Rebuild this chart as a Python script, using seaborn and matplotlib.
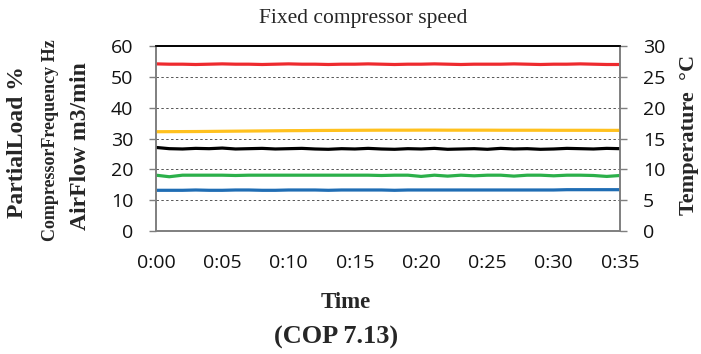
import matplotlib
matplotlib.use('Agg')
import matplotlib.pyplot as plt
import seaborn as sns
import pandas as pd

# minutes since start
minutes = list(range(36))
tick_pos = [0, 5, 10, 15, 20, 25, 30, 35]
tick_labels = ['0:00', '0:05', '0:10', '0:15', '0:20', '0:25', '0:30', '0:35']

# left axis: compressor frequency (Hz) and air flow (m3/min)
freq_hz = [54.2, 54.1, 54.1, 54.0, 54.1, 54.2, 54.1, 54.1, 54.0, 54.1, 54.2, 54.1,
           54.1, 54.0, 54.1, 54.1, 54.2, 54.1, 54.0, 54.1, 54.1, 54.2, 54.1, 54.0,
           54.1, 54.1, 54.1, 54.2, 54.1, 54.0, 54.1, 54.1, 54.2, 54.1, 54.0, 54.0]
airflow = [13.2, 13.2, 13.2, 13.3, 13.2, 13.2, 13.3, 13.3, 13.2, 13.2, 13.3, 13.3,
           13.3, 13.2, 13.3, 13.3, 13.3, 13.3, 13.2, 13.3, 13.3, 13.3, 13.3, 13.3,
           13.3, 13.3, 13.3, 13.3, 13.3, 13.3, 13.3, 13.4, 13.4, 13.4, 13.4, 13.4]

# right axis: temperatures (degC)
temp_a = [16.10, 16.11, 16.12, 16.13, 16.15, 16.17, 16.19, 16.21, 16.23, 16.25, 16.27, 16.28,
          16.30, 16.31, 16.32, 16.33, 16.34, 16.35, 16.35, 16.35, 16.36, 16.36, 16.35, 16.35,
          16.35, 16.35, 16.34, 16.34, 16.34, 16.34, 16.33, 16.33, 16.33, 16.33, 16.32, 16.32]
temp_b = [13.55, 13.35, 13.30, 13.40, 13.35, 13.45, 13.30, 13.35, 13.40, 13.30, 13.35, 13.40,
          13.30, 13.25, 13.35, 13.30, 13.40, 13.30, 13.25, 13.35, 13.30, 13.40, 13.25, 13.30,
          13.35, 13.25, 13.40, 13.30, 13.35, 13.25, 13.30, 13.40, 13.35, 13.30, 13.40, 13.35]
temp_c = [9.05, 8.80, 9.05, 9.05, 9.05, 9.05, 9.00, 9.05, 9.05, 9.05, 9.05, 9.05,
          9.05, 9.05, 9.05, 9.05, 9.05, 9.00, 9.05, 9.05, 8.85, 9.05, 8.90, 9.05,
          8.95, 9.05, 9.05, 8.90, 9.05, 9.05, 8.95, 9.05, 9.05, 9.00, 8.85, 9.00]

sns.set_theme(style='white')
plt.rcParams['font.family'] = ['Open Sans', 'DejaVu Sans']

left_df = pd.DataFrame({'t': minutes * 2,
                        'v': freq_hz + airflow,
                        's': ['freq'] * 36 + ['air'] * 36})
right_df = pd.DataFrame({'t': minutes * 3,
                         'v': temp_a + temp_b + temp_c,
                         's': ['a'] * 36 + ['b'] * 36 + ['c'] * 36})

fig = plt.figure(figsize=(7.01, 3.54), dpi=100)
ax = fig.add_axes([156 / 701, 1 - 231 / 354, 464 / 701, 185 / 354])
ax2 = ax.twinx()

sns.lineplot(data=left_df, x='t', y='v', hue='s', ax=ax, legend=False,
             palette={'freq': '#EE2A2E', 'air': '#1F6DB4'}, linewidth=2.3)
sns.lineplot(data=right_df, x='t', y='v', hue='s', ax=ax2, legend=False,
             palette={'a': '#FFC11E', 'b': '#000000', 'c': '#2BB04A'}, linewidth=2.3)

ax.set_xlim(0, 35)
ax.set_ylim(0, 60)
ax2.set_ylim(0, 30)
ax.set_yticks(range(0, 61, 10))
ax2.set_yticks(range(0, 31, 5))
ax.set_xticks(tick_pos)
ax.set_xticklabels(tick_labels)
ax.set_xlabel('')
ax.set_ylabel('')
ax2.set_ylabel('')

for y in range(10, 60, 10):
    ax.axhline(y, color='#555555', lw=0.7, ls=(0, (2.5, 2.5)), zorder=0)

for a in (ax, ax2):
    for side in ('left', 'right', 'bottom'):
        a.spines[side].set_color('#7f7f7f')
        a.spines[side].set_linewidth(1.2)
    a.spines['top'].set_color('black')
    a.spines['top'].set_linewidth(1.2)
    a.tick_params(axis='both', which='both', direction='out', length=5, width=1,
                  color='#7f7f7f', labelsize=14, labelcolor='#111111', pad=11.5)

fig.text(363 / 701, 1 - 19 / 354, 'Fixed compressor speed', ha='center', va='center',
         fontsize=15.5, family='Liberation Serif')
fig.text(346 / 701, 1 - 302 / 354, 'Time', ha='center', va='center',
         fontsize=16.5, family='Liberation Serif', weight='bold')
fig.text(336 / 701, 1 - 337 / 354, '(COP 7.13)', ha='center', va='center',
         fontsize=19, family='Liberation Serif', weight='bold')

fig.text(18 / 701, 1 - 142 / 354, 'PartialLoad %', rotation=90, ha='center', va='center',
         fontsize=17, family='Liberation Serif', weight='bold')
fig.text(51 / 701, 1 - 140 / 354, 'CompressorFrequency Hz', rotation=90, ha='center',
         va='center', fontsize=13, family='Liberation Serif', weight='bold')
fig.text(81 / 701, 1 - 146 / 354, 'AirFlow m3/min', rotation=90, ha='center', va='center',
         fontsize=17, family='Liberation Serif', weight='bold')
fig.text(689 / 701, 1 - 135 / 354, 'Temperature  \u00b0C', rotation=90, ha='center',
         va='center', fontsize=16, family='Liberation Serif', weight='bold')

fig.savefig('out.png', dpi=100)
